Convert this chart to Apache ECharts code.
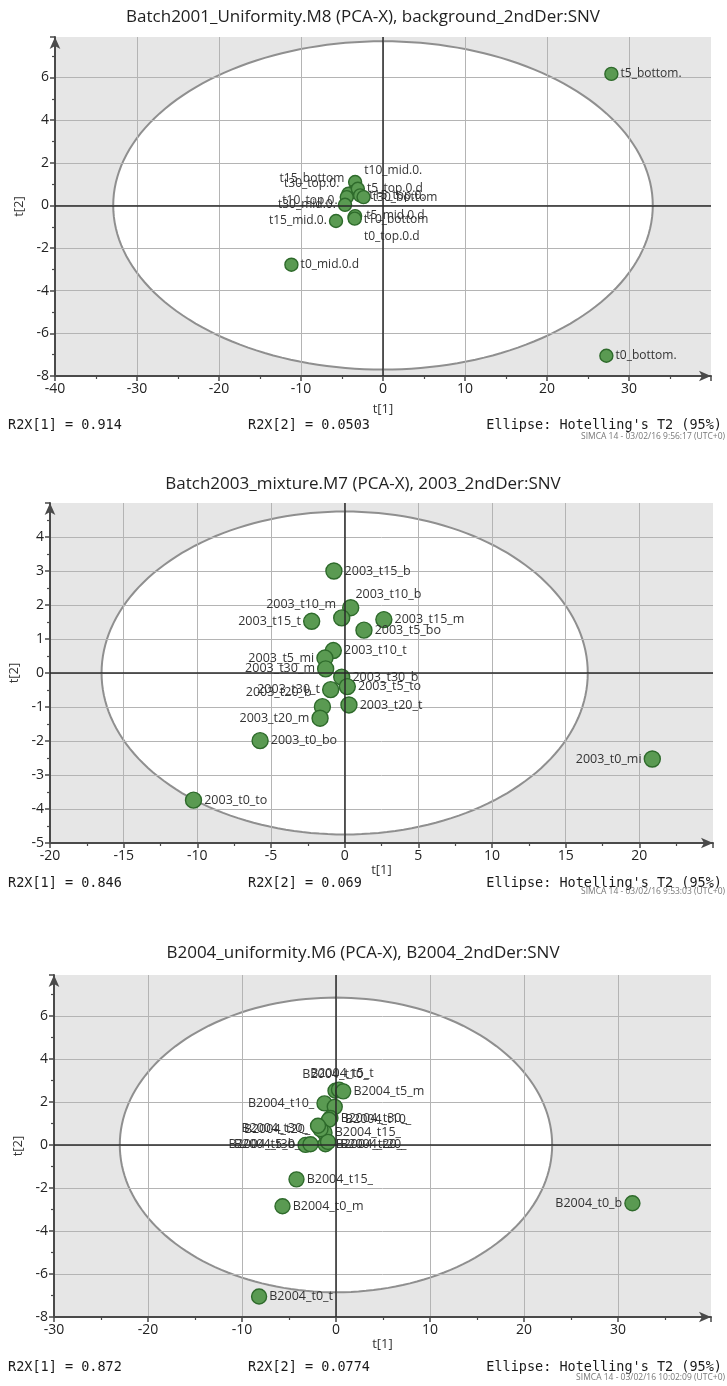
<!DOCTYPE html>
<html><head><meta charset="utf-8">
<script src="https://cdn.jsdelivr.net/npm/echarts@6/dist/echarts.min.js"></script>
<style>html,body{margin:0;padding:0;background:#fff}#c{width:727px;height:1386px}</style>
</head><body><div id="c"></div>
<script>
// ---------------- DATA ----------------
// Panel 1
const title1 = 'Batch2001_Uniformity.M8 (PCA-X), background_2ndDer:SNV';
const names1 = ['t5_bottom.','t0_bottom.','t0_mid.0.d','t15_mid.0.','t10_mid.0.','t15_bottom','t30_top.0.','t5_top.0.d','t15_top.0.','t30_bottom','t10_top.0.','t30_mid.0.','t10_bottom','t5_mid.0.d','t0_top.0.d'];
const x1 = [27.85, 27.24, -11.17, -5.73, -3.40, -3.60, -4.21, -3.07, -2.79, -2.37, -4.42, -4.63, -3.47, -3.40, -3.45];
const y1 = [6.17, -7.05, -2.78, -0.73, 1.10, 0.63, 0.55, 0.78, 0.47, 0.39, 0.39, 0.03, -0.56, -0.50, -0.62];
const ellipse1 = [32.9, 7.7];
const xRange1 = [-40, 40, 10];
const yRange1 = [-8, 7.9, 2];
const r2x1 = ['0.914', '0.0503'];
const stamp1 = 'SIMCA 14 - 03/02/16 9:56:17 (UTC+0)';

// Panel 2
const title2 = 'Batch2003_mixture.M7 (PCA-X), 2003_2ndDer:SNV';
const names2 = ['2003_t15_b','2003_t10_b','2003_t10_m','2003_t15_t','2003_t15_m','2003_t5_bo','2003_t10_t','2003_t5_mi','2003_t30_m','2003_t30_b','2003_t5_to','2003_t30_t','2003_t20_b','2003_t20_t','2003_t20_m','2003_t0_bo','2003_t0_to','2003_t0_mi'];
const x2 = [-0.73, 0.41, -0.20, -2.24, 2.66, 1.31, -0.77, -1.34, -1.29, -0.20, 0.18, -0.95, -1.51, 0.29, -1.67, -5.74, -10.26, 20.88];
const y2 = [3.00, 1.92, 1.62, 1.52, 1.57, 1.26, 0.66, 0.44, 0.12, -0.12, -0.40, -0.49, -0.99, -0.94, -1.33, -1.99, -3.74, -2.53];
const ellipse2 = [16.5, 4.75];
const xRange2 = [-20, 25, 5];
const yRange2 = [-5, 5, 1];
const r2x2 = ['0.846', '0.069'];
const stamp2 = 'SIMCA 14 - 03/02/16 9:53:03 (UTC+0)';

// Panel 3
const title3 = 'B2004_uniformity.M6 (PCA-X), B2004_2ndDer:SNV';
const names3 = ['B2004_t10_','B2004_t5_t','B2004_t5_m','B2004_t10_','B2004_t10_','B2004_t30_','B2004_t15_','B2004_t15_','B2004_t20_','B2004_t20_','B2004_t20_','B2004_t30_','B2004_t5_b','B2004_t30_','B2004_t15_','B2004_t0_m','B2004_t0_b','B2004_t0_t'];
const x3 = [-0.05, 0.32, 0.77, -1.22, -0.13, -0.59, -0.74, -1.22, -1.12, -0.85, -1.65, -1.91, -3.24, -2.71, -4.20, -5.69, 31.54, -8.18];
const y3 = [2.52, 2.57, 2.49, 1.93, 1.77, 1.25, 1.17, 0.57, 0.03, 0.14, 0.73, 0.89, 0.00, 0.03, -1.60, -2.85, -2.71, -7.05];
const ellipse3 = [23.0, 6.85];
const xRange3 = [-30, 39.9, 10];
const yRange3 = [-8, 7.9, 2];
const r2x3 = ['0.872', '0.0774'];
const stamp3 = 'SIMCA 14 - 03/02/16 10:02:09 (UTC+0)';

// ---------------- LABEL PLACEMENT (style) ----------------
const place1 = ['r','r','r','l','r','l','l','r','r','r','l','l','r','r','r'];
const off1 = {4:[0,-11],5:[0,-13],6:[0,-10],10:[0,3],12:[0,2],13:[2,-1],14:[0,18]};
const place2 = ['r','r','l','l','r','r','r','l','l','r','r','l','l','r','l','r','r','l'];
const off2 = {1:[-6,-13],2:[5,-13],12:[0,-14]};
const place3 = ['t','t','r','l','r','r','n','r','r','r','l','l','l','l','r','r','l','r'];
const off3 = {1:[3,0],4:[0,13],9:[2,3],11:[0,3]};

// ---------------- LAYOUT / STYLE ----------------
const FONT = "'Open Sans','Noto Sans',sans-serif";
const MONO = "'DejaVu Sans Mono','Liberation Mono',monospace";
const panels = [
  {title:title1, ty:17, names:names1, xs:x1, ys:y1, ell:ellipse1, xr:xRange1, yr:yRange1, r2x:r2x1, stamp:stamp1,
   place:place1, off:off1, grid:{left:55, right:16, top:37, bottom:1010}, sym:13, lf:12,
   xGap:27, yGap:27, fy:425, sy:437},
  {title:title2, ty:484, names:names2, xs:x2, ys:y2, ell:ellipse2, xr:xRange2, yr:yRange2, r2x:r2x2, stamp:stamp2,
   place:place2, off:off2, grid:{left:50, right:14, top:503, bottom:543}, sym:16, lf:12.5,
   xGap:21, yGap:22, fy:883, sy:892},
  {title:title3, ty:953, names:names3, xs:x3, ys:y3, ell:ellipse3, xr:xRange3, yr:yRange3, r2x:r2x3, stamp:stamp3,
   place:place3, off:off3, grid:{left:54, right:16, top:975, bottom:69}, sym:15, lf:12.5,
   xGap:20, yGap:25, fy:1367, sy:1378}
];

const posMap = {r:'right', l:'left', t:'top', b:'bottom'};

function axisBase(range, name, gap) {
  return {
    type:'value', min:range[0], max:range[1], interval:range[2],
    name:name, nameLocation:'middle', nameGap:gap,
    nameTextStyle:{fontFamily:FONT, fontSize:13, color:'#333'},
    axisLine:{show:true, onZero:false, symbol:['none','arrow'], symbolSize:[8,12], lineStyle:{color:'#4a4a4a', width:2}},
    axisTick:{show:true, length:5, lineStyle:{color:'#4a4a4a', width:1.5}},
    minorTick:{show:true, splitNumber:2, length:3, lineStyle:{color:'#4a4a4a', width:1.2}},
    axisLabel:{showMaxLabel:false, fontFamily:FONT, fontSize:14, color:'#222', margin:6},
    splitLine:{show:true, showMaxLine:false, showMinLine:false, lineStyle:{color:'#b4b4b4', width:1}},
    minorSplitLine:{show:false}
  };
}

function ellipseRender(params, api) {
  const cx = api.value(0), cy = api.value(1), a = api.value(2), b = api.value(3);
  const pts = [];
  for (let i = 0; i <= 180; i++) {
    const t = i / 180 * Math.PI * 2;
    pts.push(api.coord([cx + a * Math.cos(t), cy + b * Math.sin(t)]));
  }
  return {type:'polygon', shape:{points:pts}, style:{fill:'#ffffff', stroke:'#8f8f8f', lineWidth:2}, silent:true};
}

const grids = [], xAxes = [], yAxes = [], series = [], graphics = [];
panels.forEach((p, i) => {
  grids.push(Object.assign({show:true, z:-2, backgroundColor:'#e6e6e6', borderWidth:0, containLabel:false, outerBoundsMode:'none'}, p.grid));
  xAxes.push(Object.assign(axisBase(p.xr, 't[1]', p.xGap), {gridIndex:i}));
  yAxes.push(Object.assign(axisBase(p.yr, 't[2]', p.yGap), {gridIndex:i}));
  series.push({
    type:'custom', xAxisIndex:i, yAxisIndex:i, z:-1, silent:true, clip:true,
    renderItem:ellipseRender, data:[[0, 0, p.ell[0], p.ell[1]]]
  });
  const data = p.names.map((n, k) => {
    const pl = p.place[k];
    const lab = pl === 'n' ? {show:false} : {position:posMap[pl], offset:p.off[k] || [0,0]};
    return {name:n, value:[p.xs[k], p.ys[k]], label:lab};
  });
  series.push({
    type:'scatter', xAxisIndex:i, yAxisIndex:i, z:3, symbolSize:p.sym,
    itemStyle:{color:'#5a9a52', borderColor:'#2e6a2b', borderWidth:1.4, opacity:1},
    label:{show:true, formatter:'{b}', fontFamily:FONT, fontSize:p.lf, color:'#333', distance:2},
    emphasis:{disabled:true},
    data:data,
    markLine:{
      silent:true, symbol:['none','none'], animation:false,
      label:{show:false},
      lineStyle:{color:'#2a2a2a', width:1.5, type:'solid'},
      emphasis:{disabled:true},
      data:[{xAxis:0}, {yAxis:0}]
    }
  });
  graphics.push({type:'text', x:363, y:p.ty, style:{text:p.title, font:'17px ' + FONT, fill:'#222',
    textAlign:'center', textVerticalAlign:'middle', align:'center', verticalAlign:'middle'}});
  graphics.push({type:'text', x:8, y:p.fy, style:{text:'R2X[1] = ' + p.r2x[0], font:'13.5px ' + MONO, fill:'#1a1a1a',
    textVerticalAlign:'middle', verticalAlign:'middle'}});
  graphics.push({type:'text', x:248, y:p.fy, style:{text:'R2X[2] = ' + p.r2x[1], font:'13.5px ' + MONO, fill:'#1a1a1a',
    textVerticalAlign:'middle', verticalAlign:'middle'}});
  graphics.push({type:'text', x:722, y:p.fy, style:{text:"Ellipse: Hotelling's T2 (95%)", font:'13.5px ' + MONO, fill:'#1a1a1a',
    textAlign:'right', align:'right', textVerticalAlign:'middle', verticalAlign:'middle'}});
  graphics.push({type:'text', x:725, y:p.sy, style:{text:p.stamp, font:'8.5px ' + FONT, fill:'#777',
    textAlign:'right', align:'right', textVerticalAlign:'middle', verticalAlign:'middle'}});
});

const chart = echarts.init(document.getElementById('c'), null, {renderer:'canvas'});
chart.setOption({
  animation:false,
  backgroundColor:'#ffffff',
  grid:grids, xAxis:xAxes, yAxis:yAxes, series:series, graphic:graphics
});
</script>
</body></html>
